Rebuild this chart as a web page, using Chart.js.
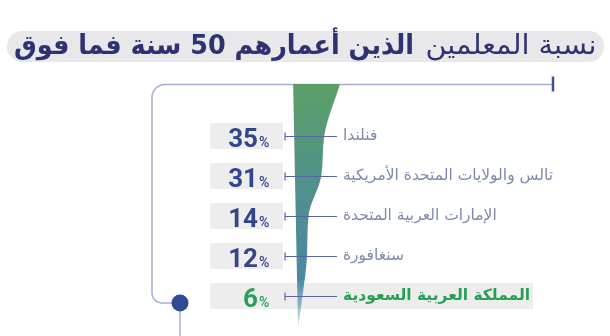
<!DOCTYPE html>
<html lang="ar">
<head>
<meta charset="utf-8">
<script src="https://cdn.jsdelivr.net/npm/chart.js@4.4.1/dist/chart.umd.min.js"></script>
<style>
  body { margin: 0; background: #fff; }
  #wrap { position: relative; width: 610px; height: 336px; overflow: hidden; }
  #pill { position: absolute; left: 7px; right: 6px; top: 31px; height: 31px; background: #e8e8ea; border-radius: 15px; }
  .tt {
    position: absolute; top: 27px; direction: rtl; white-space: nowrap;
    font-family: "DejaVu Sans", sans-serif; font-size: 27px; line-height: 36px;
    color: #2e3272; transform-origin: right center;
  }
  #tReg { right: 14px; }
  #tBold { right: 196px; font-weight: bold; }
  canvas { position: absolute; left: 0; top: 0; }
</style>
</head>
<body>
<div id="wrap">
  <canvas id="chart" width="610" height="336"></canvas>
  <div id="pill"></div>
  <span class="tt" id="tReg">نسبة المعلمين</span>
  <span class="tt" id="tBold">الذين أعمارهم 50 سنة فما فوق</span>
</div>
<script>
// data
const countries = ["فنلندا", "تالس والولايات المتحدة الأمريكية", "الإمارات العربية المتحدة", "سنغافورة", "المملكة العربية السعودية"];
const shares = [35, 31, 14, 12, 6];
const highlight = "المملكة العربية السعودية";

// the taper is wider at the top rule and closes to a thin tip at the bottom
const taperCap = 56;
const taperTip = 0;
const taperLean = -6.5; // left edge leans out a little at the top

// layout (pixels / row units)
const capRow = -1.3, tipRow = 4.8;
const xOrigin = 298, pxPerPct = 0.75;
const boxLeft = 210, boxRight = 283, highlightRight = 533;
const tickX = 285, lineEnd = 337, labelX = 343;
const navy = "#33468c", green = "#27a055", labelGrey = "#7e8aaa", frameBlue = "#a5afd3";

// squeeze / stretch the two title runs to the width they take in the picture
[["tReg", 171], ["tBold", 400]].forEach(([id, w]) => {
  const el = document.getElementById(id);
  el.style.transform = "scaleX(" + (w / el.getBoundingClientRect().width) + ")";
});

const rightEdge = [{ x: taperCap, y: capRow }]
  .concat(shares.map((v, i) => ({ x: v, y: i })))
  .concat([{ x: taperTip, y: tipRow }]);
const leftEdge = [{ x: taperLean, y: capRow }, { x: taperTip, y: tipRow }];

const rowsPlugin = {
  id: "rows",
  beforeDatasetsDraw(chart) {
    const { ctx } = chart;
    const y = chart.scales.y;
    ctx.save();
    // frame
    const topY = Math.round(y.getPixelForValue(capRow)) + 0.5;
    ctx.strokeStyle = frameBlue;
    ctx.lineWidth = 1.5;
    ctx.beginPath();
    ctx.moveTo(553, topY);
    ctx.lineTo(165, topY);
    ctx.arcTo(152, topY, 152, topY + 13, 13);
    ctx.lineTo(152, 293);
    ctx.arcTo(152, 303, 162, 303, 10);
    ctx.lineTo(180, 303);
    ctx.moveTo(180, 303);
    ctx.lineTo(180, 336);
    ctx.stroke();
    ctx.strokeStyle = "#3e5196";
    ctx.lineWidth = 2.5;
    ctx.beginPath();
    ctx.moveTo(553, topY - 8);
    ctx.lineTo(553, topY + 7);
    ctx.stroke();
    ctx.fillStyle = "#2f4b93";
    ctx.beginPath();
    ctx.arc(180, 303, 8.5, 0, Math.PI * 2);
    ctx.fill();
    // grey boxes
    countries.forEach((c, i) => {
      const py = y.getPixelForValue(i);
      ctx.fillStyle = "#ededee";
      ctx.fillRect(boxLeft, py - 13, (c === highlight ? highlightRight : boxRight) - boxLeft, 26);
    });
    ctx.restore();
  },
  afterDatasetsDraw(chart) {
    const { ctx } = chart;
    const y = chart.scales.y;
    ctx.save();
    countries.forEach((c, i) => {
      const py = Math.round(y.getPixelForValue(i)) + 0.5;
      const hot = c === highlight;
      // connector
      ctx.strokeStyle = "#5766a0";
      ctx.lineWidth = 1.2;
      ctx.beginPath();
      ctx.moveTo(tickX, py - 4);
      ctx.lineTo(tickX, py + 4);
      ctx.moveTo(tickX, py);
      ctx.lineTo(lineEnd, py);
      ctx.stroke();
      // value
      ctx.direction = "ltr";
      ctx.textBaseline = "alphabetic";
      ctx.fillStyle = hot ? green : navy;
      ctx.font = "bold 26px Roboto";
      ctx.textAlign = "right";
      ctx.fillText(String(shares[i]), 258, py + 10);
      ctx.font = "500 14px Roboto";
      ctx.textAlign = "left";
      ctx.fillText("%", 259, py + 10);
      // country
      ctx.direction = "rtl";
      ctx.textAlign = "left";
      ctx.textBaseline = "middle";
      ctx.fillStyle = hot ? green : labelGrey;
      ctx.font = (hot ? "bold " : "") + "15.5px 'DejaVu Sans'";
      ctx.fillText(c, labelX, py - 1);
    });
    ctx.restore();
  }
};

new Chart(document.getElementById("chart"), {
  type: "line",
  data: {
    datasets: [{
      data: rightEdge,
      fill: "+1",
      borderWidth: 0,
      pointRadius: 0,
      cubicInterpolationMode: "monotone",
      backgroundColor: (context) => {
        const { ctx, chartArea, scales } = context.chart;
        if (!chartArea) return "#4f8f8d";
        const g = ctx.createLinearGradient(0, scales.y.getPixelForValue(capRow), 0, scales.y.getPixelForValue(tipRow));
        g.addColorStop(0, "#5c9f67");
        g.addColorStop(0.45, "#4f8f8e");
        g.addColorStop(0.8, "#4b88a6");
        g.addColorStop(1, "rgba(75,136,168,0.2)");
        return g;
      }
    }, {
      data: leftEdge,
      fill: false,
      borderWidth: 0,
      pointRadius: 0
    }]
  },
  options: {
    indexAxis: "y",
    responsive: false,
    animation: false,
    layout: { padding: 0 },
    plugins: { legend: { display: false }, tooltip: { enabled: false } },
    scales: {
      x: { type: "linear", display: false, min: -xOrigin / pxPerPct, max: (610 - xOrigin) / pxPerPct },
      y: { type: "linear", display: false, reverse: true, min: -3.4, max: 5 }
    }
  },
  plugins: [rowsPlugin]
});
</script>
</body>
</html>
